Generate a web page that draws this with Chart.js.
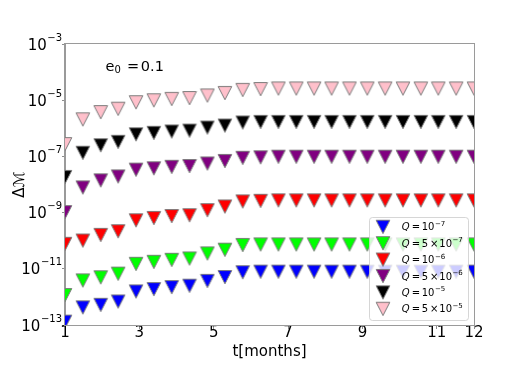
<!DOCTYPE html>
<html>
<head>
<meta charset="utf-8">
<script src="https://cdn.jsdelivr.net/npm/chart.js@4.4.0/dist/chart.umd.min.js"></script>
<style>
html,body{margin:0;padding:0;background:#fff;}
#wrap{width:527px;height:366px;}
</style>
</head>
<body>
<div id="wrap"><canvas id="myChart" width="527" height="366"></canvas></div>
<script>
// time in months
var months = [1, 1.48, 1.96, 2.43, 2.91, 3.39, 3.87, 4.35, 4.83, 5.30, 5.78, 6.26,
              6.74, 7.22, 7.70, 8.17, 8.65, 9.13, 9.61, 10.09, 10.57, 11.04, 11.52, 12];

// Delta M for each Q
var dmQ1e7 = [1.32e-13, 4.27e-13, 5.25e-13, 6.92e-13, 1.58e-12, 1.91e-12, 2.24e-12, 2.51e-12, 3.72e-12, 5.13e-12, 7.59e-12, 7.94e-12,
              7.94e-12, 7.94e-12, 7.94e-12, 7.94e-12, 7.94e-12, 7.94e-12, 7.94e-12, 7.94e-12, 7.94e-12, 7.94e-12, 7.94e-12, 7.94e-12];
var dmQ5e7 = [1.17e-12, 3.89e-12, 5.01e-12, 6.76e-12, 1.51e-11, 1.78e-11, 2.09e-11, 2.34e-11, 3.55e-11, 4.79e-11, 7.08e-11, 7.41e-11,
              7.41e-11, 7.41e-11, 7.41e-11, 7.41e-11, 7.41e-11, 7.41e-11, 7.41e-11, 7.41e-11, 7.41e-11, 7.41e-11, 7.41e-11, 7.41e-11];
var dmQ1e6 = [7.76e-11, 1.02e-10, 1.62e-10, 2.19e-10, 5.37e-10, 6.46e-10, 7.59e-10, 8.13e-10, 1.23e-9, 1.66e-9, 2.51e-9, 2.63e-9,
              2.75e-9, 2.75e-9, 2.75e-9, 2.75e-9, 2.75e-9, 2.75e-9, 2.75e-9, 2.75e-9, 2.75e-9, 2.75e-9, 2.75e-9, 2.75e-9];
var dmQ5e6 = [1.05e-9, 7.94e-9, 1.41e-8, 1.95e-8, 3.39e-8, 3.80e-8, 4.27e-8, 4.57e-8, 5.62e-8, 6.92e-8, 8.91e-8, 9.33e-8,
              9.77e-8, 9.77e-8, 9.77e-8, 9.77e-8, 9.77e-8, 9.77e-8, 9.77e-8, 9.77e-8, 9.77e-8, 9.77e-8, 9.77e-8, 9.77e-8];
var dmQ1e5 = [1.86e-8, 1.35e-7, 2.51e-7, 3.31e-7, 6.17e-7, 6.92e-7, 7.76e-7, 8.32e-7, 1.07e-6, 1.26e-6, 1.62e-6, 1.70e-6,
              1.70e-6, 1.70e-6, 1.70e-6, 1.70e-6, 1.70e-6, 1.70e-6, 1.70e-6, 1.70e-6, 1.70e-6, 1.70e-6, 1.70e-6, 1.70e-6];
var dmQ5e5 = [2.75e-7, 2.09e-6, 3.80e-6, 5.01e-6, 8.51e-6, 1.00e-5, 1.12e-5, 1.20e-5, 1.48e-5, 1.82e-5, 2.34e-5, 2.51e-5,
              2.63e-5, 2.63e-5, 2.63e-5, 2.63e-5, 2.63e-5, 2.63e-5, 2.63e-5, 2.63e-5, 2.63e-5, 2.63e-5, 2.63e-5, 2.63e-5];

// legend: Q = coef x 10^exp
var qCoef = ['', '5', '', '5', '', '5'];
var qExp = ['-7', '-7', '-6', '-6', '-5', '-5'];
var colors = ['#0000ff', '#00ff00', '#ff0000', '#800080', '#000000', '#ffc0cb'];

var xTicks = [1, 3, 5, 7, 9, 11, 12];
var yTicks = [1e-13, 1e-11, 1e-9, 1e-7, 1e-5, 1e-3];

var FONT = "'DejaVu Sans', sans-serif";
var SPINE = '#9a9a9a';

// matplotlib-like triangle_down marker
function makeTri(fill){
    var c = document.createElement('canvas');
    c.width = 16; c.height = 16;
    var g = c.getContext('2d');
    g.beginPath();
    g.moveTo(1.2, 1.6);
    g.lineTo(14.8, 1.6);
    g.lineTo(8, 14.8);
    g.closePath();
    g.fillStyle = fill;
    g.fill();
    g.lineWidth = 1;
    g.strokeStyle = '#7a7a7a';
    g.stroke();
    return c;
}

var series = [dmQ1e7, dmQ5e7, dmQ1e6, dmQ5e6, dmQ1e5, dmQ5e5];
var markers = colors.map(makeTri);
var datasets = [];
for(var s=0;s<series.length;s++){
    datasets.push({
        label: 'Q=' + (qCoef[s] ? qCoef[s] + '\u00D7' : '') + '10^' + qExp[s],
        data: months.map(function(m, i){ return {x: m, y: series[this][i]}; }, s),
        pointStyle: markers[s],
        showLine: false,
        clip: 0
    });
}

var overlay = {
    id: 'overlay',
    afterDraw: function(chart){
        var ctx = chart.ctx, a = chart.chartArea;
        ctx.save();
        // frame on all four sides
        ctx.strokeStyle = SPINE;
        ctx.lineWidth = 1;
        ctx.strokeRect(Math.round(a.left) - 0.5, Math.round(a.top) - 0.5, Math.round(a.right - a.left) + 1, Math.round(a.bottom - a.top) + 1);

        // y tick labels as 10^n
        var ys = chart.scales.y;
        ctx.fillStyle = '#000';
        ctx.textAlign = 'right';
        ctx.textBaseline = 'alphabetic';
        yTicks.forEach(function(v){
            var py = ys.getPixelForValue(v);
            var ex = '\u2212' + String(Math.round(-Math.log10(v)));
            ctx.font = '10px ' + FONT;
            var ew = ctx.measureText(ex).width;
            ctx.fillText(ex, 62, py - 3.5);
            ctx.font = '15px ' + FONT;
            ctx.fillText('10', 62 - ew - 0.5, py + 5.5);
        });
        ctx.textAlign = 'left';

        // e0 annotation
        ctx.font = '14.5px ' + FONT;
        ctx.fillText('e', 105.5, 70.7);
        ctx.font = '10px ' + FONT;
        ctx.fillText('0', 114.5, 73.3);
        ctx.font = '14.5px ' + FONT;
        ctx.fillText('=', 127, 70.7);
        ctx.fillText('0.1', 140.8, 70.7);

        // legend box
        var bx = 369.5, by = 217.5, bw = 99, bh = 103, r = 3;
        ctx.beginPath();
        ctx.moveTo(bx + r, by);
        ctx.arcTo(bx + bw, by, bx + bw, by + bh, r);
        ctx.arcTo(bx + bw, by + bh, bx, by + bh, r);
        ctx.arcTo(bx, by + bh, bx, by, r);
        ctx.arcTo(bx, by, bx + bw, by, r);
        ctx.closePath();
        ctx.fillStyle = 'rgba(255,255,255,0.8)';
        ctx.fill();
        ctx.strokeStyle = 'rgba(204,204,204,0.8)';
        ctx.stroke();

        for(var i=0;i<qExp.length;i++){
            var cy = 226.7 + i * 16.4;
            ctx.drawImage(markers[i], 383 - 8, cy - 8);
            var base = cy + 3.6;
            ctx.fillStyle = '#000';
            ctx.font = 'italic 10px ' + FONT;
            ctx.fillText('Q', 401.7, base);
            ctx.font = '10px ' + FONT;
            ctx.fillText('=', 411.7, base);
            var tx = 421.7;
            if(qCoef[i]){
                ctx.fillText(qCoef[i], 421.7, base);
                ctx.fillText('\u00D7', 430, base);
                tx = 439.3;
            }
            ctx.fillText('10', tx, base);
            ctx.font = '7px ' + FONT;
            ctx.fillText('\u2212' + qExp[i].slice(1), tx + 13.2, base - 4.5);
        }
        ctx.restore();
    }
};

var myChart = new Chart(document.getElementById('myChart').getContext('2d'), {
    type: 'scatter',
    data: { datasets: datasets },
    options: {
        responsive: false,
        animation: false,
        events: [],
        layout: { padding: { left: 4, right: 53, top: 44, bottom: 0 } },
        plugins: { legend: { display: false }, tooltip: { enabled: false } },
        scales: {
            x: {
                type: 'linear',
                min: 1, max: 12,
                afterBuildTicks: function(scale){ scale.ticks = xTicks.map(function(v){ return {value: v}; }); },
                afterFit: function(scale){ scale.height = 41; },
                ticks: { color: '#000', font: { family: FONT, size: 15 }, padding: -4.5, maxRotation: 0, autoSkip: false,
                         callback: function(v){ return String(v); } },
                grid: { drawOnChartArea: false, tickLength: 4, color: '#8c8c8c' },
                border: { color: SPINE, width: 1 },
                title: { display: true, text: 't[months]', color: '#000', font: { family: FONT, size: 15 }, padding: { top: 0, bottom: 5 } }
            },
            y: {
                type: 'logarithmic',
                min: 1e-13, max: 1e-3,
                afterBuildTicks: function(scale){ scale.ticks = yTicks.map(function(v){ return {value: v}; }); },
                afterFit: function(scale){ scale.width = 61; },
                ticks: { display: false },
                grid: { drawOnChartArea: false, tickLength: 3, color: '#8c8c8c' },
                border: { color: SPINE, width: 1 },
                title: { display: true, text: '\u0394\u2133', color: '#000', font: { family: FONT, size: 15 }, padding: { top: 7, bottom: 0 } }
            }
        }
    },
    plugins: [overlay]
});
</script>
</body>
</html>
